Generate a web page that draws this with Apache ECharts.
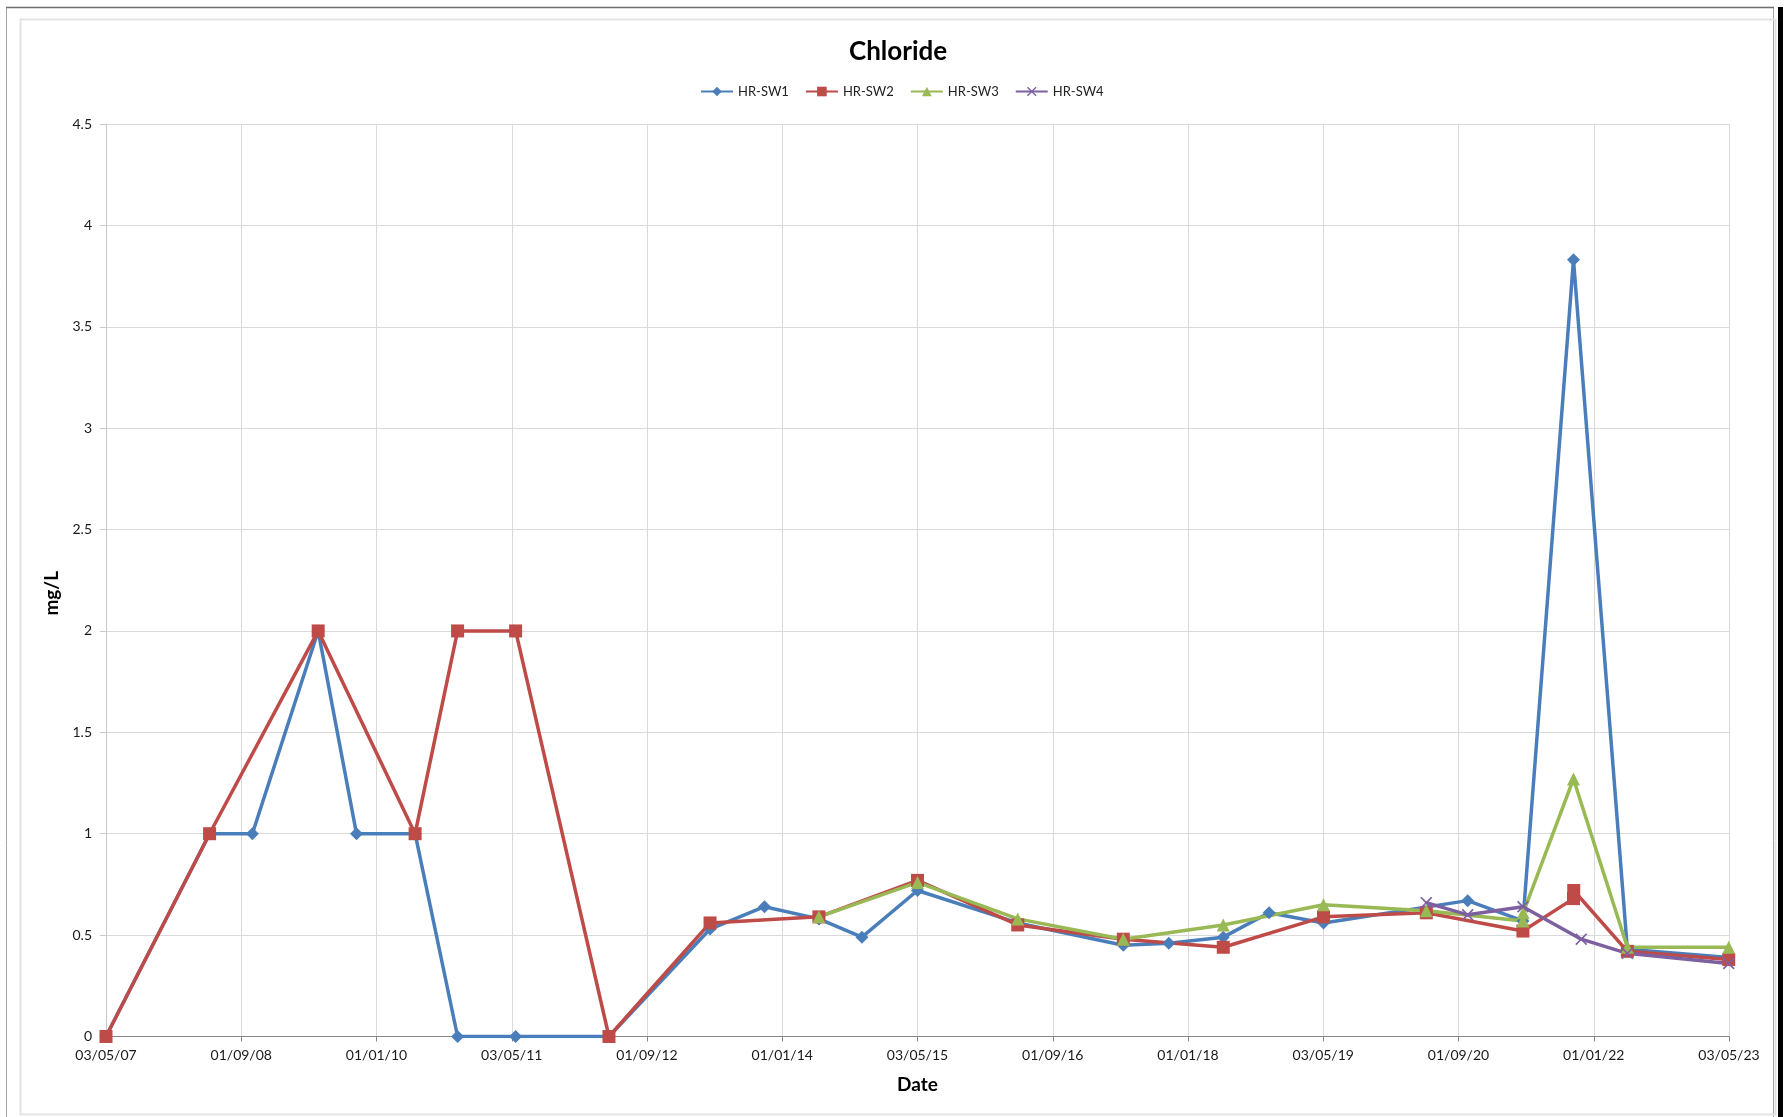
<!DOCTYPE html>
<html>
<head>
<meta charset="utf-8">
<title>Chloride</title>
<script src="https://cdn.jsdelivr.net/npm/echarts@6/dist/echarts.min.js"></script>
<style>
  html, body { margin: 0; padding: 0; background: #ffffff; }
  #chart { width: 1786px; height: 1117px; }
</style>
</head>
<body>
<div id="chart"></div>
<script>
// Sampling dates (ISO) shared by all four stations; null = not sampled
const sampleDates = [
  '2007-05-03', '2008-05-10', '2008-10-11', '2009-06-05', '2009-10-21',
  '2010-05-20', '2010-10-20', '2011-05-17', '2012-04-17', '2013-04-16',
  '2013-10-29', '2014-05-13', '2014-10-15', '2015-05-03', '2016-04-28',
  '2017-05-13', '2017-10-24', '2018-05-08', '2018-10-20', '2019-05-04',
  '2020-05-08', '2020-10-04', '2021-04-21', '2021-04-22', '2021-10-20',
  '2021-10-21', '2021-11-17', '2022-05-02', '2023-05-02'
];

const seriesNames = ['HR-SW1', 'HR-SW2', 'HR-SW3', 'HR-SW4'];

// Chloride, mg/L
const sw1 = [0, 1, 1, 2, 1, 1, 0, 0, 0, 0.53, 0.64, 0.58, 0.49, 0.72, 0.56,
             0.45, 0.46, 0.49, 0.61, 0.56, null, 0.67, 0.57, null, 3.83,
             null, null, 0.43, 0.39];
const sw2 = [0, 1, null, 2, null, 1, 2, 2, 0, 0.56, null, 0.59, null, 0.77, 0.55,
             0.48, null, 0.44, null, 0.59, 0.61, null, 0.52, null, 0.68,
             0.72, null, 0.42, 0.38];
const sw3 = [null, null, null, null, null, null, null, null, null, null,
             null, 0.59, null, 0.76, 0.58, 0.48, null, 0.55, null, 0.65,
             0.62, null, 0.57, 0.61, 1.27, null, null, 0.44, 0.44];
const sw4 = [null, null, null, null, null, null, null, null, null, null,
             null, null, null, null, null, null, null, null, null, null,
             0.66, 0.60, 0.64, null, null, null, 0.48, 0.41, 0.36];

// Date axis: origin 03/05/07, a tick every 487 days up to 03/05/23
const axisOrigin = '2007-05-03';
const tickStepDays = 487;
const tickCount = 12;
const yTicks = [0, 0.5, 1, 1.5, 2, 2.5, 3, 3.5, 4, 4.5];

const DAY_MS = 86400000;
function toUTC(iso) {
  const p = iso.split('-').map(Number);
  return Date.UTC(p[0], p[1] - 1, p[2]);
}
const originMs = toUTC(axisOrigin);
function dayOffset(iso) { return Math.round((toUTC(iso) - originMs) / DAY_MS); }
function pad2(n) { return (n < 10 ? '0' : '') + n; }
function formatDay(v) {
  const d = new Date(originMs + v * DAY_MS);
  return pad2(d.getUTCDate()) + '/' + pad2(d.getUTCMonth() + 1) + '/' + pad2(d.getUTCFullYear() % 100);
}
function pairs(values) {
  return sampleDates.map((s, i) => [dayOffset(s), values[i]]);
}

const FONT = 'Lato, "Open Sans", sans-serif';
const crossPath = 'path://M0,1 L1,0 L5,4 L9,0 L10,1 L6,5 L10,9 L9,10 L5,6 L1,10 L0,9 L4,5 Z';

const styles = [
  { color: '#4A7EBB', symbol: 'diamond', size: 13 },
  { color: '#BE4B48', symbol: 'rect', size: 13 },
  { color: '#98B954', symbol: 'triangle', size: 13 },
  { color: '#7D60A0', symbol: crossPath, size: 12 }
];
const allValues = [sw1, sw2, sw3, sw4];

const chart = echarts.init(document.getElementById('chart'), null, { renderer: 'canvas' });

chart.setOption({
  backgroundColor: '#ffffff',
  animation: false,
  textStyle: { fontFamily: FONT },
  graphic: [
    { type: 'rect', shape: { x: 6.5, y: 7.5, width: 1767, height: 1115 },
      style: { fill: null, stroke: '#a6a6a6', lineWidth: 1 } },
    { type: 'line', shape: { x1: 6, y1: 7.5, x2: 1774, y2: 7.5 },
      style: { stroke: '#6f6f6f', lineWidth: 1.5 } },
    { type: 'rect', shape: { x: 20.5, y: 19.5, width: 1755, height: 1095 },
      style: { fill: null, stroke: '#e3e3e3', lineWidth: 2 } },
    { type: 'rect', shape: { x: 1778, y: 7, width: 5, height: 1110 },
      style: { fill: '#000000' } }
  ],
  title: {
    text: 'Chloride',
    left: 849,
    top: 39,
    padding: 0,
    textStyle: { fontFamily: FONT, fontWeight: 'bold', fontSize: 26, color: '#000000' }
  },
  legend: {
    data: seriesNames,
    left: 700,
    top: 85,
    padding: 0,
    itemWidth: 32,
    itemHeight: 12,
    itemGap: 16,
    textStyle: { fontFamily: FONT, fontSize: 13, color: '#222222' }
  },
  grid: { left: 106, right: 57, top: 124, bottom: 80.5, containLabel: false },
  xAxis: {
    type: 'value',
    name: 'Date',
    nameLocation: 'middle',
    nameGap: 39,
    nameTextStyle: { fontFamily: FONT, fontWeight: 'bold', fontSize: 19, color: '#000000' },
    min: 0,
    max: tickStepDays * tickCount,
    interval: tickStepDays,
    axisLine: { show: true, lineStyle: { color: '#868686', width: 1 } },
    axisTick: { show: true, length: 5, lineStyle: { color: '#868686' } },
    axisLabel: { formatter: formatDay, fontFamily: FONT, fontSize: 14, color: '#1a1a1a', margin: 12,
                 showMinLabel: true, showMaxLabel: true },
    splitLine: { show: true, lineStyle: { color: '#d9d9d9', width: 1 } }
  },
  yAxis: {
    type: 'value',
    name: 'mg/L',
    nameLocation: 'middle',
    nameGap: 33,
    nameRotate: 90,
    nameTextStyle: { fontFamily: FONT, fontWeight: 'bold', fontSize: 19, color: '#000000',
                     padding: [0, 0, 0, -26] },
    min: yTicks[0],
    max: yTicks[yTicks.length - 1],
    interval: yTicks[1] - yTicks[0],
    axisLine: { show: true, lineStyle: { color: '#c8c8c8', width: 1 } },
    axisTick: { show: true, length: 6, lineStyle: { color: '#c8c8c8' } },
    axisLabel: { fontFamily: FONT, fontSize: 14, color: '#1a1a1a', margin: 14 },
    splitLine: { show: true, lineStyle: { color: '#d9d9d9', width: 1 } }
  },
  series: seriesNames.map((name, i) => ({
    name: name,
    type: 'line',
    data: pairs(allValues[i]),
    connectNulls: true,
    symbol: styles[i].symbol,
    symbolSize: styles[i].size,
    showAllSymbol: true,
    lineStyle: { color: styles[i].color, width: 3.5 },
    itemStyle: { color: styles[i].color },
    emphasis: { disabled: true }
  }))
});
</script>
</body>
</html>
